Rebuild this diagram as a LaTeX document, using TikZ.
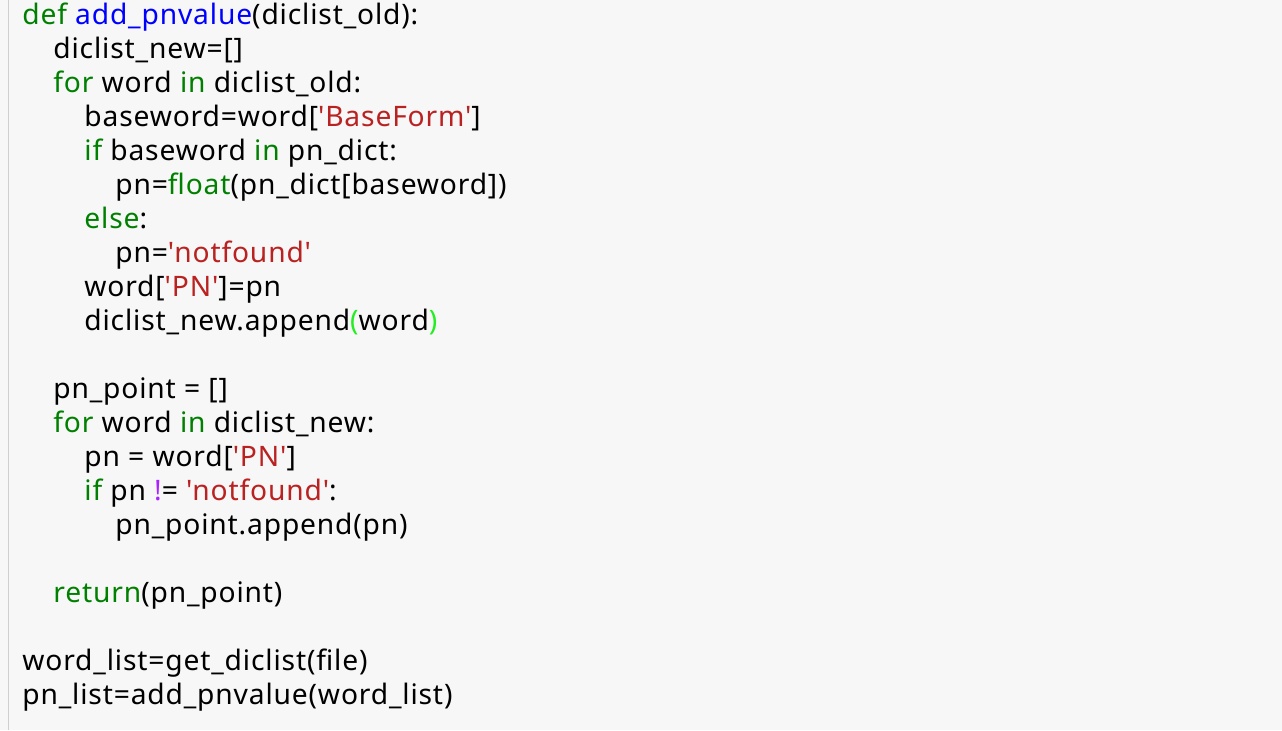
\documentclass[tikz,border=0pt]{standalone}
\usepackage{fontspec}
\newfontfamily\codefont{Noto Sans}[Ligatures=TeXOff,LetterSpace=3]
\definecolor{codebg}{HTML}{F7F7F7}
\definecolor{rulegray}{HTML}{CFCFCF}
\definecolor{kwgreen}{HTML}{008000}
\definecolor{fnblue}{HTML}{0000FF}
\definecolor{strred}{HTML}{BA2121}
\definecolor{opviolet}{HTML}{AA22FF}
\definecolor{matchgreen}{HTML}{22EE22}
\newcommand{\us}{\_}
\newcommand{\kw}[1]{\textcolor{kwgreen}{#1}}
\newcommand{\fnname}[1]{\textcolor{fnblue}{#1}}
\newcommand{\strlit}[1]{\textcolor{strred}{#1}}
\newcommand{\opchar}[1]{\textcolor{opviolet}{#1}}
\newcommand{\bparen}[1]{\textcolor{matchgreen}{#1}}

\begin{document}
\begin{tikzpicture}[x=0.5pt,y=-0.5pt,code line/.style={anchor=base west,inner sep=0pt,font=\codefont\fontsize{14.1}{16}\selectfont}]
	\fill[codebg] (0,0) rectangle (1282,730);
	\useasboundingbox (0,0) rectangle (1282,730);
	\draw[rulegray,line width=0.75pt] (8.5,0) -- (8.5,730);

	\node[code line] (l0) at (22,24.5) {\kw{def} \fnname{add\us pnvalue}(diclist\us old):};
	\node[code line] (l1) at (53,58.5) {diclist\us new=[]};
	\node[code line] (l2) at (53,92.5) {\kw{for} word \kw{in} diclist\us old:};
	\node[code line] (l3) at (84,126.5) {baseword=word[\strlit{'BaseForm'}]};
	\node[code line] (l4) at (84,160.5) {\kw{if} baseword \kw{in} pn\us dict:};
	\node[code line] (l5) at (115,194.5) {pn=\kw{float}(pn\us dict[baseword])};
	\node[code line] (l6) at (84,228.5) {\kw{else}:};
	\node[code line] (l7) at (115,262.5) {pn=\strlit{'notfound'}};
	\node[code line] (l8) at (84,296.5) {word[\strlit{'PN'}]=pn};
	\node[code line] (l9) at (84,330.5) {diclist\us new.append\bparen{(}word\bparen{)}};

	\node[code line] (l11) at (53,398.5) {pn\us point = []};
	\node[code line] (l12) at (53,432.5) {\kw{for} word \kw{in} diclist\us new:};
	\node[code line] (l13) at (84,466.5) {pn = word[\strlit{'PN'}]};
	\node[code line] (l14) at (84,500.5) {\kw{if} pn \opchar{!}= \strlit{'notfound'}:};
	\node[code line] (l15) at (115,534.5) {pn\us point.append(pn)};

	\node[code line] (l17) at (53,602.5) {\kw{return}(pn\us point)};

	\node[code line] (l19) at (22,670.5) {word\us list=get\us diclist(file)};
	\node[code line] (l20) at (22,704.5) {pn\us list=add\us pnvalue(word\us list)};
\end{tikzpicture}
\end{document}
